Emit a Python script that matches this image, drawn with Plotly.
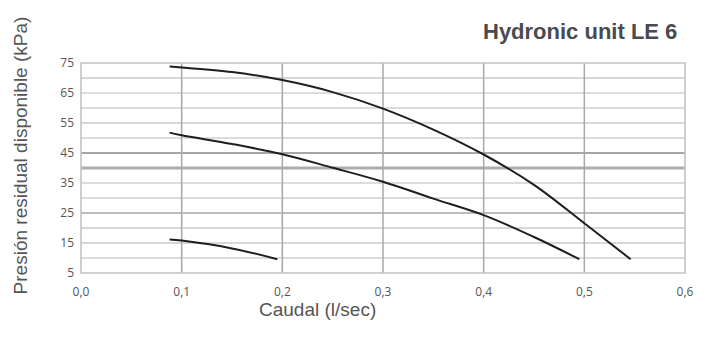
import plotly.graph_objects as go

# ---- data ----
flow_high = [0.088, 0.10, 0.15, 0.20, 0.25, 0.30, 0.35, 0.40, 0.45, 0.50, 0.546]
pres_high = [73.8, 73.5, 72.0, 69.3, 65.3, 59.8, 52.8, 44.5, 34.4, 21.6, 9.6]

flow_mid = [0.088, 0.10, 0.15, 0.20, 0.25, 0.30, 0.35, 0.40, 0.45, 0.495]
pres_mid = [51.8, 50.9, 48.0, 44.6, 40.1, 35.4, 29.8, 24.3, 17.0, 9.6]

flow_low = [0.088, 0.10, 0.15, 0.195]
pres_low = [16.2, 15.8, 13.2, 9.6]

x_ticks = [0.0, 0.1, 0.2, 0.3, 0.4, 0.5, 0.6]
x_tick_labels = ["0,0", "0,1", "0,2", "0,3", "0,4", "0,5", "0,6"]
y_ticks = [5, 15, 25, 35, 45, 55, 65, 75]
grid_levels = [70, 65, 60, 55, 50, 45, 40, 35, 30, 25, 20, 15, 10]
grid_styles = ["mid", "light", "light", "mid", "light", "dark", "thick", "light", "light", "darker", "mid", "mid", "light"]
v_grid = [0.1, 0.2, 0.3, 0.4, 0.5]

title_text = "Hydronic unit LE 6"
x_title = "Caudal (l/sec)"
y_title = "Presión residual disponible (kPa)"

style_map = {
    "light": ("#dcdcdc", 2.2),
    "mid": ("#b0b0b0", 1.2),
    "dark": ("#8a8a8a", 1.6),
    "darker": ("#7a7a7a", 1.2),
    "thick": ("#adadad", 3),
}

fig = go.Figure()

shapes = []
for lv, st in zip(grid_levels, grid_styles):
    c, w = style_map[st]
    shapes.append(dict(type="line", xref="x domain", yref="y", x0=0, x1=1, y0=lv, y1=lv,
                       line=dict(color=c, width=w), layer="below"))
for vx in v_grid:
    shapes.append(dict(type="line", xref="x", yref="y domain", x0=vx, x1=vx, y0=0, y1=1,
                       line=dict(color="#a8a8a8", width=1.5), layer="below"))
shapes.append(dict(type="rect", xref="x domain", yref="y domain", x0=0, x1=1, y0=0, y1=1,
                   line=dict(color="#c2c2c2", width=1.6), layer="below"))

for fx, py in [(flow_high, pres_high), (flow_mid, pres_mid), (flow_low, pres_low)]:
    fig.add_trace(go.Scatter(x=fx, y=py, mode="lines", line=dict(color="#1e1e1e", width=2, shape="spline"),
                             showlegend=False, hoverinfo="skip"))

tick_font = dict(family="Open Sans, sans-serif", size=12, color="#555555")
label_font = "Liberation Sans Narrow, Arial Narrow, Liberation Sans, sans-serif"
fig.update_layout(
    width=705, height=336,
    margin=dict(l=73, r=28, t=55, b=71),
    plot_bgcolor="white", paper_bgcolor="white",
    shapes=shapes,
    xaxis=dict(range=[0, 0.6], tickvals=x_ticks, ticktext=x_tick_labels, showgrid=False,
               zeroline=False, showline=False, ticks="", tickfont=tick_font, ticklabelstandoff=10,
               automargin=False),
    yaxis=dict(range=[5, 75], tickvals=y_ticks, showgrid=False, zeroline=False, showline=False,
               ticks="", tickfont=tick_font, ticklabelstandoff=6, automargin=False),
    annotations=[
        dict(text="<b>" + title_text + "</b>", xref="paper", yref="paper", x=1.0, y=1.0,
             xanchor="right", yanchor="bottom", yshift=17, xshift=-6, showarrow=False,
             font=dict(family=label_font, size=22, color="#4a4a50")),
        dict(text=x_title, xref="paper", yref="paper", x=0.392, y=0, xanchor="center", yanchor="top",
             yshift=-24, showarrow=False,
             font=dict(family=label_font, size=19, color="#555555")),
        dict(text=y_title, xref="paper", yref="paper", x=0, y=0.56, xanchor="center", yanchor="middle",
             xshift=-61, textangle=-90, showarrow=False,
             font=dict(family=label_font, size=19, color="#555555")),
    ],
)

fig.write_html("out.html")
